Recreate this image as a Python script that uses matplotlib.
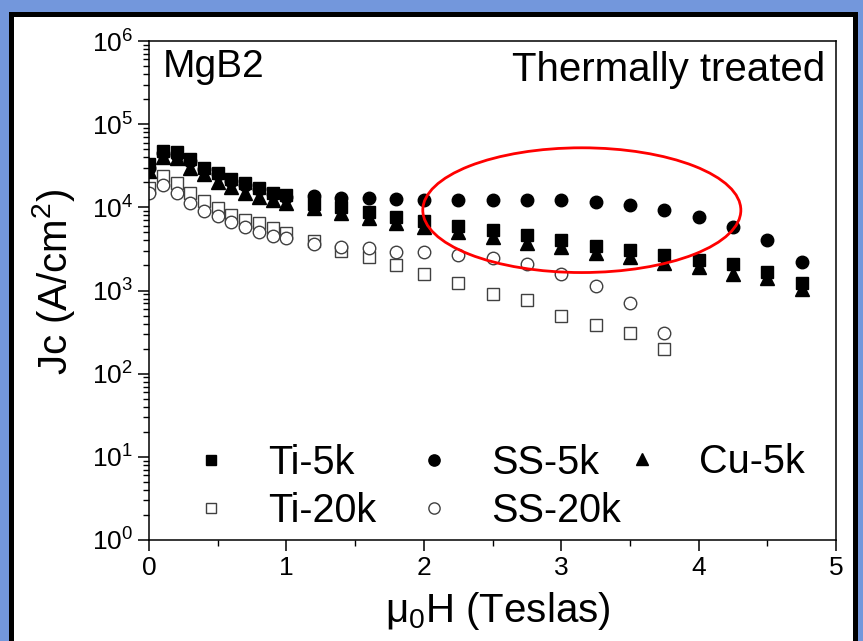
import matplotlib
matplotlib.use('Agg')
import matplotlib.pyplot as plt
from matplotlib.patches import Ellipse, Rectangle
from matplotlib.ticker import MultipleLocator, LogLocator, NullFormatter

plt.rcParams['font.family'] = ['Liberation Sans', 'DejaVu Sans']
plt.rcParams['mathtext.fontset'] = 'custom'
plt.rcParams['mathtext.rm'] = 'Liberation Sans'
plt.rcParams['mathtext.it'] = 'Liberation Sans:italic'
plt.rcParams['mathtext.bf'] = 'Liberation Sans:bold'

# field values (Tesla)
field = [0, 0.1, 0.2, 0.3, 0.4, 0.5, 0.6, 0.7, 0.8, 0.9, 1.0, 1.2, 1.4, 1.6, 1.8,
         2.0, 2.25, 2.5, 2.75, 3.0, 3.25, 3.5, 3.75, 4.0, 4.25, 4.5, 4.75]
field_20k = field[:23]

ti_5k = [3.3e4, 4.8e4, 4.6e4, 3.8e4, 3.0e4, 2.6e4, 2.2e4, 1.95e4, 1.7e4, 1.5e4, 1.4e4,
         1.1e4, 1.0e4, 8.7e3, 7.6e3, 6.9e3, 6.0e3, 5.4e3, 4.7e3, 4.1e3, 3.4e3, 3.1e3,
         2.7e3, 2.3e3, 2.1e3, 1.65e3, 1.23e3]
cu_5k = [2.7e4, 4.0e4, 3.9e4, 3.0e4, 2.5e4, 2.0e4, 1.75e4, 1.5e4, 1.33e4, 1.23e4, 1.12e4,
         9.8e3, 8.5e3, 7.4e3, 6.5e3, 5.8e3, 5.0e3, 4.4e3, 3.7e3, 3.3e3, 2.8e3, 2.5e3,
         2.15e3, 1.9e3, 1.6e3, 1.4e3, 1.05e3]
ss_5k = [3.0e4, 4.5e4, 4.3e4, 3.6e4, 2.9e4, 2.5e4, 2.1e4, 1.85e4, 1.65e4, 1.45e4, 1.35e4,
         1.38e4, 1.3e4, 1.28e4, 1.26e4, 1.24e4, 1.23e4, 1.24e4, 1.24e4, 1.22e4, 1.17e4,
         1.07e4, 9.3e3, 7.6e3, 5.8e3, 4.0e3, 2.2e3]
ti_20k = [1.7e4, 2.4e4, 1.95e4, 1.5e4, 1.2e4, 9.8e3, 8.1e3, 7.0e3, 6.5e3, 5.6e3, 4.9e3,
          3.9e3, 3.0e3, 2.5e3, 2.0e3, 1.6e3, 1.23e3, 9.2e2, 7.7e2, 4.9e2, 3.8e2, 3.1e2, 2.0e2]
ss_20k = [1.5e4, 1.86e4, 1.48e4, 1.12e4, 9.1e3, 7.9e3, 6.6e3, 5.8e3, 5.0e3, 4.5e3, 4.3e3,
          3.6e3, 3.3e3, 3.2e3, 2.9e3, 2.9e3, 2.7e3, 2.45e3, 2.1e3, 1.6e3, 1.13e3, 7.0e2, 3.1e2]

fig = plt.figure(figsize=(8.63, 6.41), dpi=100, facecolor='#7397dc')
fig.patches.append(Rectangle((10.5 / 863, -0.05), 844 / 863, 1.0282, transform=fig.transFigure,
                             facecolor='white', edgecolor='black', lw=3.6, zorder=-5))

ax = fig.add_axes([0.1727, 0.1576, 0.796, 0.7784])
ax.set_yscale('log')

gray = '#404040'
p_ti20, = ax.plot(field_20k, ti_20k, 's', ms=8.5, mfc='white', mec=gray, mew=1.0, label='Ti-20k')
p_ss20, = ax.plot(field_20k, ss_20k, 'o', ms=9, mfc='white', mec=gray, mew=1.0, label='SS-20k')
p_ss5, = ax.plot(field, ss_5k, 'o', ms=9, color='black', label='SS-5k')
p_cu5, = ax.plot(field, cu_5k, '^', ms=9.5, color='black', label='Cu-5k')
p_ti5, = ax.plot(field, ti_5k, 's', ms=8.5, color='black', label='Ti-5k')

ax.set_xlim(0, 5)
ax.set_ylim(1, 1e6)
ax.set_xticks([0, 1, 2, 3, 4, 5])
ax.xaxis.set_minor_locator(MultipleLocator(0.5))
ax.yaxis.set_major_locator(LogLocator(base=10, numticks=10))
ax.yaxis.set_minor_locator(LogLocator(base=10, subs=range(2, 10), numticks=20))
ax.yaxis.set_minor_formatter(NullFormatter())
ax.tick_params(which='major', direction='out', length=8, width=1.1, labelsize=19)
ax.tick_params(which='minor', direction='out', length=4.5, width=1.0)
for s in ax.spines.values():
    s.set_linewidth(1.1)

ax.set_xlabel(r'$\mathrm{\mu_0}$H (Teslas)', fontsize=29)
ax.set_ylabel(r'Jc (A/cm$^2$)', fontsize=29)
ax.xaxis.set_label_coords(0.507, -0.1)
ax.yaxis.set_label_coords(-0.105, 0.517)

ax.text(0.02, 0.948, 'MgB2', transform=ax.transAxes, fontsize=28, ha='left', va='center')
ax.text(0.984, 0.942, 'Thermally treated', transform=ax.transAxes, fontsize=29,
        ha='right', va='center')

ax.add_patch(Ellipse((0.630, 0.661), 0.463, 0.25, transform=ax.transAxes,
                     fill=False, edgecolor='red', lw=2.0, zorder=5))

# legend: three columns placed separately
leg_kw = dict(frameon=False, fontsize=28.5, borderpad=0, borderaxespad=0,
              handlelength=0.8, handletextpad=1.05, labelspacing=0.25, markerscale=0.9)
leg1 = ax.legend([p_ti5, p_ti20], ['Ti-5k', 'Ti-20k'], loc='center left',
                 bbox_to_anchor=(0.067, 0.106), **leg_kw)
ax.add_artist(leg1)
leg2 = ax.legend([p_ss5, p_ss20], ['SS-5k', 'SS-20k'], loc='center left',
                 bbox_to_anchor=(0.392, 0.106), **leg_kw)
ax.add_artist(leg2)
ax.legend([p_cu5], ['Cu-5k'], loc='center left', bbox_to_anchor=(0.694, 0.156), **leg_kw)

fig.savefig('out.png', dpi=100, facecolor=fig.get_facecolor())
